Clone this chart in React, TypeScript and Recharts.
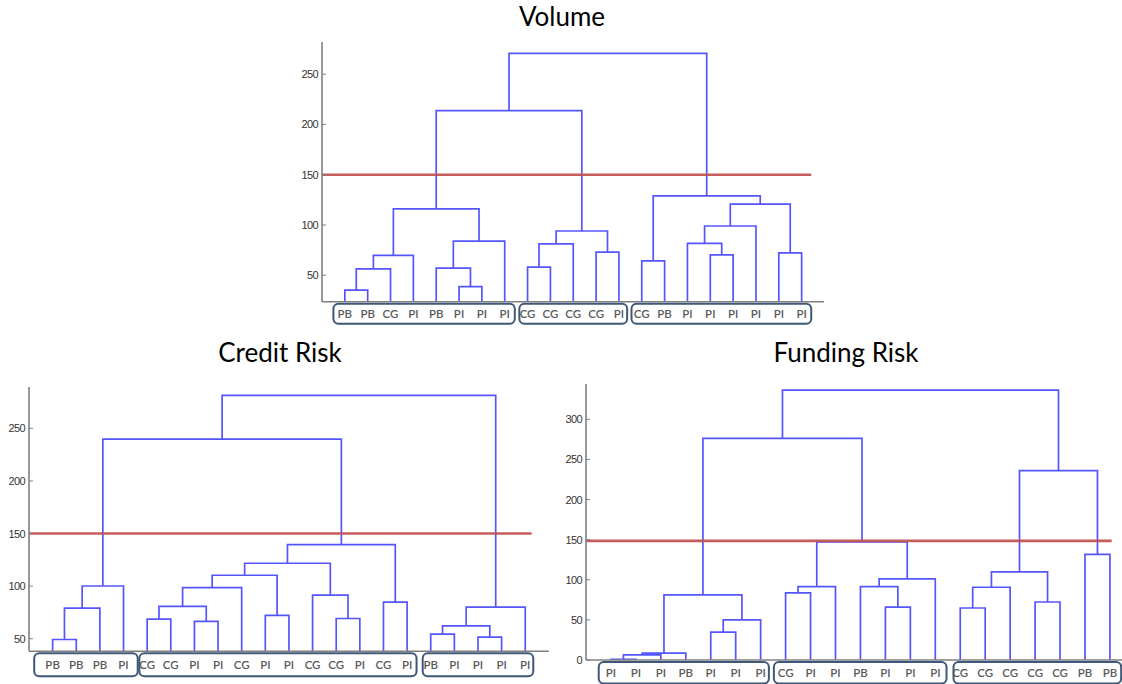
import React from 'react';
import { ComposedChart, Line, XAxis, YAxis, ReferenceArea } from 'recharts';

// ---------- Volume ----------
const volumeLeaves = ['PB', 'PB', 'CG', 'PI', 'PB', 'PI', 'PI', 'PI', 'CG', 'CG', 'CG', 'CG', 'PI', 'CG', 'PB', 'PI', 'PI', 'PI', 'PI', 'PI', 'PI'];
// [child A, child B, merge height]; leaves are 1..21, merge k creates node 21+k
const volumeLinks: [number, number, number][] = [
  [1, 2, 35.3], [6, 7, 38.7], [22, 3, 56.3], [5, 23, 57], [9, 10, 58],
  [14, 15, 64.3], [24, 4, 69.7], [17, 18, 70.3], [20, 21, 72.3], [12, 13, 73],
  [26, 11, 81.3], [16, 29, 81.7], [25, 8, 84], [32, 31, 94], [33, 19, 99],
  [28, 34, 116], [36, 30, 120.7], [27, 38, 129], [37, 35, 213.7], [40, 39, 270.7],
];
const volumeGroups: [number, number][] = [[1, 8], [9, 13], [14, 21]];
const volumeTicks = [50, 100, 150, 200, 250];
const volumeCut = 150;

// ---------- Credit Risk ----------
const creditLeaves = ['PB', 'PB', 'PB', 'PI', 'CG', 'CG', 'PI', 'PI', 'CG', 'PI', 'PI', 'CG', 'CG', 'PI', 'CG', 'PI', 'PB', 'PI', 'PI', 'PI', 'PI'];
const creditLinks: [number, number, number][] = [
  [1, 2, 49.2], [19, 20, 51.4], [17, 18, 54.3], [24, 23, 62.2], [7, 8, 66.4],
  [5, 6, 68.6], [13, 14, 69.2], [10, 11, 72.1], [22, 3, 79.1], [25, 21, 80],
  [27, 26, 80.7], [15, 16, 84.8], [12, 28, 91.5], [32, 9, 98.5], [30, 4, 100.1],
  [35, 29, 110.3], [37, 34, 121.7], [38, 33, 139.5], [36, 39, 239.7], [40, 31, 281.3],
];
const creditGroups: [number, number][] = [[1, 4], [5, 16], [17, 21]];
const creditTicks = [50, 100, 150, 200, 250];
const creditCut = 150;

// ---------- Funding Risk ----------
const fundingLeaves = ['PI', 'PI', 'PI', 'PB', 'PI', 'PI', 'PI', 'CG', 'PI', 'PI', 'PB', 'PI', 'PI', 'PI', 'CG', 'CG', 'CG', 'CG', 'CG', 'PB', 'PB'];
const fundingLinks: [number, number, number][] = [
  [1, 2, 0.8], [22, 3, 6.5], [23, 4, 8.5], [5, 6, 34.7], [25, 7, 50.1],
  [15, 16, 64.8], [12, 13, 66], [18, 19, 72.3], [24, 26, 81.1], [8, 9, 83.6],
  [27, 17, 90.7], [31, 10, 91.5], [11, 28, 91.5], [34, 14, 101.1], [32, 29, 109.9],
  [20, 21, 131.6], [33, 35, 147.1], [36, 37, 236.1], [30, 38, 276.2], [40, 39, 336.4],
];
const fundingGroups: [number, number][] = [[1, 7], [8, 14], [15, 21]];
const fundingTicks = [0, 50, 100, 150, 200, 250, 300];
const fundingCut = 148.5;

// ---------- styles ----------
const BLUE = '#5555ff';
const RED = '#c0504d';
const AXIS = '#7f7f7f';
const BOX = '#3f5877';
const YW = 40;
const MT = 5;
const MR = 0;
const XH = 40;

type Cfg = {
  leaves: string[];
  links: [number, number, number][];
  groups: [number, number][];
  pads: [number, number][];
  ticks: number[];
  cut: number;
  cutEnd: number;
  left: number; right: number; top: number; bottom: number;
  yMin: number; yMax: number;
  labelDy: number;
  boxOff: [number, number];
};

function buildSegments(leaves: string[], links: [number, number, number][], base: number) {
  const n = leaves.length;
  const pos: Record<number, number> = {};
  const hgt: Record<number, number> = {};
  for (let i = 1; i <= n; i++) { pos[i] = i; hgt[i] = base; }
  return links.map(([a, b, h], k) => {
    const id = n + 1 + k;
    const seg = [
      { x: pos[a], y: hgt[a] },
      { x: pos[a], y: h },
      { x: pos[b], y: h },
      { x: pos[b], y: hgt[b] },
    ];
    pos[id] = (pos[a] + pos[b]) / 2;
    hgt[id] = h;
    return seg;
  });
}

function Dendro({ cfg }: { cfg: Cfg }) {
  const segs = buildSegments(cfg.leaves, cfg.links, cfg.yMin);
  const plotW = cfg.right - cfg.left;
  const plotH = cfg.bottom - cfg.top;
  const W = YW + plotW + MR;
  const H = MT + plotH + XH;
  const ppu = plotH / (cfg.yMax - cfg.yMin);
  const leafIdx = cfg.leaves.map((_, i) => i + 1);
  const boxY1 = cfg.yMin - cfg.boxOff[0] / ppu;
  const boxY2 = cfg.yMin - cfg.boxOff[1] / ppu;

  const LeafTick = (p: any) => (
    <text x={p.x} y={p.y + cfg.labelDy} textAnchor="middle" dominantBaseline="central"
      fontFamily="Lato, 'Open Sans', sans-serif" fontSize={11.5} fontWeight={600} fill="#5a5a5a">
      {cfg.leaves[Number(p.payload.value) - 1]}
    </text>
  );
  const YTick = (p: any) => (
    <g>
      <text x={p.x} y={p.y} textAnchor="end" dominantBaseline="central"
        fontFamily="'Liberation Sans', Arial, sans-serif" fontSize={11} letterSpacing={-0.6} fill="#333">
        {p.payload.value}
      </text>
      <line x1={p.x + 4} x2={p.x + 8} y1={p.y} y2={p.y} stroke={AXIS} strokeWidth={1} />
    </g>
  );

  return (
    <div style={{ position: 'absolute', left: cfg.left - YW, top: cfg.top - MT }}>
      <ComposedChart width={W} height={H} margin={{ top: MT, right: MR, bottom: 0, left: 0 }}>
        <XAxis type="number" dataKey="x" domain={[0, 22]} ticks={leafIdx} interval={0}
          allowDataOverflow tick={LeafTick} tickLine={false} tickSize={0} tickMargin={0}
          height={XH} axisLine={{ stroke: AXIS, strokeWidth: 1.6 }} />
        <YAxis type="number" domain={[cfg.yMin, cfg.yMax]} ticks={cfg.ticks} interval={0}
          allowDataOverflow width={YW} tick={YTick} tickLine={false} tickSize={0} tickMargin={4}
          axisLine={{ stroke: AXIS, strokeWidth: 1.6 }} />
        {cfg.groups.map(([s, e], i) => (
          <ReferenceArea key={'b' + i} x1={s - cfg.pads[i][0]} x2={e + cfg.pads[i][1]}
            y1={boxY1} y2={boxY2} ifOverflow="visible"
            shape={(p: any) => (
              <rect x={p.x} y={p.y} width={p.width} height={p.height} rx={5} ry={5}
                fill="none" stroke={BOX} strokeWidth={2} />
            )} />
        ))}
        {segs.map((d, i) => (
          <Line key={'l' + i} data={d} dataKey="y" type="linear" stroke={BLUE} strokeWidth={1.7}
            dot={false} activeDot={false} isAnimationActive={false} />
        ))}
        <Line data={[{ x: 0, y: cfg.cut }, { x: cfg.cutEnd, y: cfg.cut }]} dataKey="y" type="linear"
          stroke={RED} strokeWidth={2.6} strokeOpacity={0.92} dot={false} activeDot={false}
          isAnimationActive={false} />
      </ComposedChart>
    </div>
  );
}

const volumeCfg: Cfg = {
  leaves: volumeLeaves, links: volumeLinks, groups: volumeGroups,
  pads: [[0.5, 0.44], [0.36, 0.36], [0.45, 0.42]],
  ticks: volumeTicks, cut: volumeCut, cutEnd: 21.42,
  left: 321.5, right: 824, top: 42, bottom: 301.7, yMin: 23.7, yMax: 282,
  labelDy: 11.6, boxOff: [2, 22],
};
const creditCfg: Cfg = {
  leaves: creditLeaves, links: creditLinks, groups: creditGroups,
  pads: [[0.78, 0.6], [0.33, 0.4], [0.34, 0.34]],
  ticks: creditTicks, cut: creditCut, cutEnd: 21.27,
  left: 29.1, right: 549, top: 386.5, bottom: 650.7, yMin: 38.1, yMax: 289.3,
  labelDy: 13.6, boxOff: [2, 25],
};
const fundingCfg: Cfg = {
  leaves: fundingLeaves, links: fundingLinks, groups: fundingGroups,
  pads: [[0.49, 0.33], [0.47, 0.45], [0.27, 0.45]],
  ticks: fundingTicks, cut: fundingCut, cutEnd: 21.07,
  left: 586, right: 1134.9, top: 384, bottom: 660, yMin: 0, yMax: 344,
  labelDy: 12.7, boxOff: [2, 23.5],
};

export default function App() {
  return (
    <div style={{ position: 'fixed', left: 0, top: 0, width: 1122, height: 684, overflow: 'hidden', background: '#fff' }}>
      <Dendro cfg={volumeCfg} />
      <Dendro cfg={creditCfg} />
      <Dendro cfg={fundingCfg} />
      <svg width={1122} height={684} style={{ position: 'absolute', left: 0, top: 0, pointerEvents: 'none' }}>
        <g fontFamily="Lato, 'Open Sans', sans-serif" fontSize={26} fill="#000" textAnchor="middle">
          <text x={562} y={26}>Volume</text>
          <text x={280} y={362}>Credit Risk</text>
          <text x={846} y={362}>Funding Risk</text>
        </g>
      </svg>
    </div>
  );
}
